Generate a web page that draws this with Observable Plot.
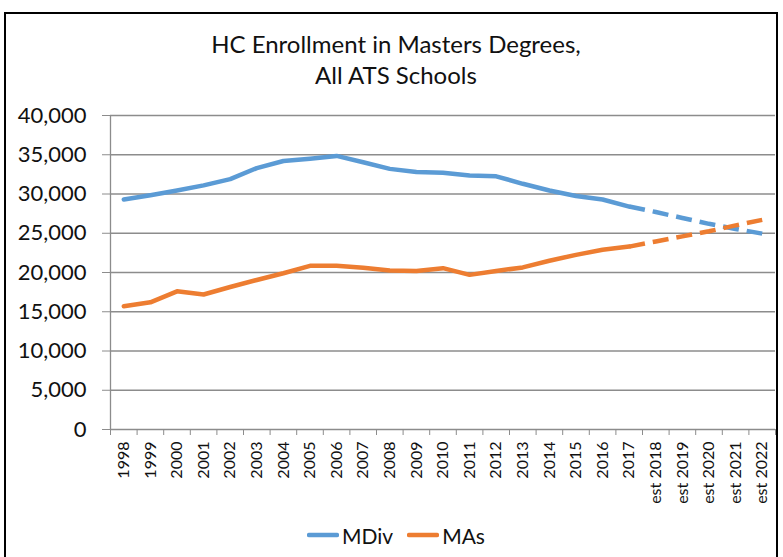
<!DOCTYPE html>
<html>
<head>
<meta charset="utf-8">
<script src="https://cdn.jsdelivr.net/npm/d3@7"></script>
<script src="https://cdn.jsdelivr.net/npm/@observablehq/plot@0.6"></script>
<style>
  html, body { margin: 0; padding: 0; background: #fff; }
  #wrap { position: relative; width: 783px; height: 557px; overflow: hidden; font-family: Lato, "Open Sans", sans-serif; color: #000; }
  #frame { position: absolute; left: 4px; top: 12px; width: 774px; height: 600px; border: 2px solid #000; box-sizing: border-box; }
  #title { position: absolute; left: 0; width: 792px; top: 28px; text-align: center; font-size: 24px; line-height: 31px; color: #111; }
  #chart { position: absolute; left: 0; top: 0; }
  #legend { position: absolute; top: 519px; left: 0; width: 792px; text-align: center; font-size: 21px; color: #111; }
  #legend span.item { display: inline-flex; align-items: center; margin: 0 7px; }
  #legend svg { margin-right: 3px; }
</style>
</head>
<body>
<div id="wrap">
  <div id="frame"></div>
  <div id="title">HC Enrollment in Masters Degrees,<br>All ATS Schools</div>
  <div id="chart"></div>
  <div id="legend"></div>
</div>
<script>
const years = ["1998","1999","2000","2001","2002","2003","2004","2005","2006","2007","2008","2009","2010","2011","2012","2013","2014","2015","2016","2017","est 2018","est 2019","est 2020","est 2021","est 2022"];
const mdiv = [29300, 29850, 30450, 31100, 31900, 33300, 34200, 34500, 34850, 34050, 33200, 32800, 32700, 32350, 32250, 31300, 30450, 29750, 29300, 28400, 27700, 26950, 26200, 25550, 24950];
const mas = [15700, 16200, 17600, 17200, 18150, 19050, 19900, 20850, 20850, 20600, 20250, 20200, 20550, 19700, 20200, 20650, 21500, 22250, 22900, 23300, 23950, 24600, 25250, 26000, 26700];
const seriesNames = ["MDiv", "MAs"];
const seriesColors = ["#5B9BD5", "#ED7D31"];
const yTicks = [0, 5000, 10000, 15000, 20000, 25000, 30000, 35000, 40000];
const lastActual = 19; // index of 2017

const rows = [];
[mdiv, mas].forEach((vals, s) => vals.forEach((v, i) => rows.push({i, year: years[i], value: v, series: seriesNames[s]})));

const solid = rows.filter(d => d.i <= lastActual);
const dashed = rows.filter(d => d.i >= lastActual);
const grid = "#8c8c8c";

const chart = Plot.plot({
  width: 783,
  height: 557,
  marginTop: 115,
  marginLeft: 110,
  marginRight: 8,
  marginBottom: 128,
  style: {fontFamily: "Lato, 'Open Sans', sans-serif", background: "transparent", color: "#000"},
  x: {type: "linear", domain: [0, years.length], axis: null},
  y: {domain: [0, 40000], axis: null},
  color: {domain: seriesNames, range: seriesColors},
  marks: [
    Plot.gridY(yTicks, {stroke: grid, strokeOpacity: 1, strokeWidth: 1.3}),
    Plot.axisY({ticks: yTicks, label: null, tickFormat: d3.format(","), tickSize: 8, tickPadding: 16, fontSize: 22, stroke: grid, fill: "#111"}),
    Plot.axisX({ticks: d3.range(0, years.length + 1), label: null, tickFormat: () => "", tickSize: 6, stroke: grid}),
    Plot.ruleX([0], {stroke: grid, strokeWidth: 1.3}),
    Plot.text(years, {x: (d, i) => i + 0.5, frameAnchor: "bottom", rotate: -90, textAnchor: "end", lineAnchor: "middle", dy: 12, fontSize: 16, fill: "#111"}),
    Plot.line(solid, {x: d => d.i + 0.5, y: "value", z: "series", stroke: "series", strokeWidth: 4.5, strokeLinecap: "round", strokeLinejoin: "round"}),
    Plot.line(dashed, {x: d => d.i + 0.5, y: "value", z: "series", stroke: "series", strokeWidth: 4.5, strokeDasharray: "16,8", strokeLinecap: "butt", strokeLinejoin: "round"})
  ]
});
document.getElementById("chart").appendChild(chart);

const legend = document.getElementById("legend");
seriesNames.forEach((name, k) => {
  const item = document.createElement("span");
  item.className = "item";
  item.innerHTML = `<svg width="32" height="10"><line x1="2" x2="30" y1="5" y2="5" stroke="${seriesColors[k]}" stroke-width="4.5" stroke-linecap="round"/></svg>${name}`;
  legend.appendChild(item);
});
</script>
</body>
</html>
